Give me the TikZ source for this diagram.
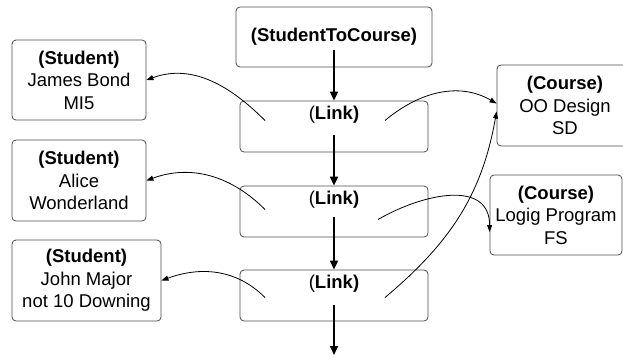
\documentclass[tikz,border=0pt]{standalone}
\usepackage{fontspec}
\setmainfont{Liberation Sans}
\usepackage{xcolor}
\usepackage{tikz}
\usetikzlibrary{arrows.meta}

\begin{document}
\begin{tikzpicture}[x=1pt, y=-1pt,
        font=\fontsize{18.5}{22.5}\selectfont,
        objbox/.style={draw=black!70, line width=0.8pt, rounded corners=4pt, rectangle, align=center, inner sep=0pt},
        linkbox/.style={objbox, minimum width=188pt, minimum height=51pt,
            label={[anchor=north, inner sep=5.5pt]north:(\textbf{Link)}}},
        chain/.style={-{Triangle[length=9pt,width=8pt]}, line width=1.6pt},
        ref/.style={-{Triangle[length=7pt,width=5pt]}, line width=0.8pt}]
                \useasboundingbox (0,0) rectangle (623,357);
                \node[objbox, minimum width=196pt, minimum height=60pt] (head) at (334,37) {\textbf{(StudentToCourse)}};
                \node[linkbox] (link1) at (334,126.5) {};
                \node[linkbox] (link2) at (334,211.5) {};
                \node[linkbox] (link3) at (334,295.5) {};
                \coordinate (tail) at (334,355);
                \node[objbox, minimum width=134pt, minimum height=80pt] (student1) at (79,80) {\textbf{(Student)}\\James Bond\\MI5};
                \node[objbox, minimum width=134pt, minimum height=81pt] (student2) at (79,180.5) {\textbf{(Student)}\\Alice\\Wonderland};
                \node[objbox, minimum width=149pt, minimum height=81pt] (student3) at (86.5,280.5) {\textbf{(Student)}\\John Major\\not 10 Downing};
                \node[objbox, minimum width=136pt, minimum height=81pt] (course1) at (565,105.5) {\textbf{(Course)}\\OO Design\\SD};
                \node[objbox, minimum width=132pt, minimum height=80pt] (course2) at (556,215) {\textbf{(Course)}\\Logig Program\\FS};
                \draw[chain] ([yshift=-13pt]head.center) -- (link1.north);
                \draw[chain] ([yshift=-8pt]link1.center) -- (link2.north);
                \draw[chain] ([yshift=-5pt]link2.center) -- (link3.north);
                \draw[chain] ([yshift=-9pt]link3.center) -- (tail);
                \draw[ref] ([xshift=-69pt,yshift=6pt]link1.center) to[out=135, in=20] (student1.east);
                \draw[ref] ([xshift=-69pt,yshift=2pt]link2.center) to[out=135, in=20] (student2.east);
                \draw[ref] ([xshift=-69pt,yshift=-2pt]link3.center) to[out=135, in=20] (student3.east);
                \draw[ref] ([xshift=51pt,yshift=6pt]link1.center) to[out=40, in=150] ([yshift=2pt]course1.west);
                \draw[ref] ([xshift=44pt,yshift=-8pt]link2.center) to[out=30, in=90, looseness=1.2] ([yshift=-17pt]course2.west);
                \draw[ref] ([xshift=51pt,yshift=-2pt]link3.center) to[out=40, in=-100] ([yshift=-6pt]course1.west);
            \end{tikzpicture}
\end{document}
